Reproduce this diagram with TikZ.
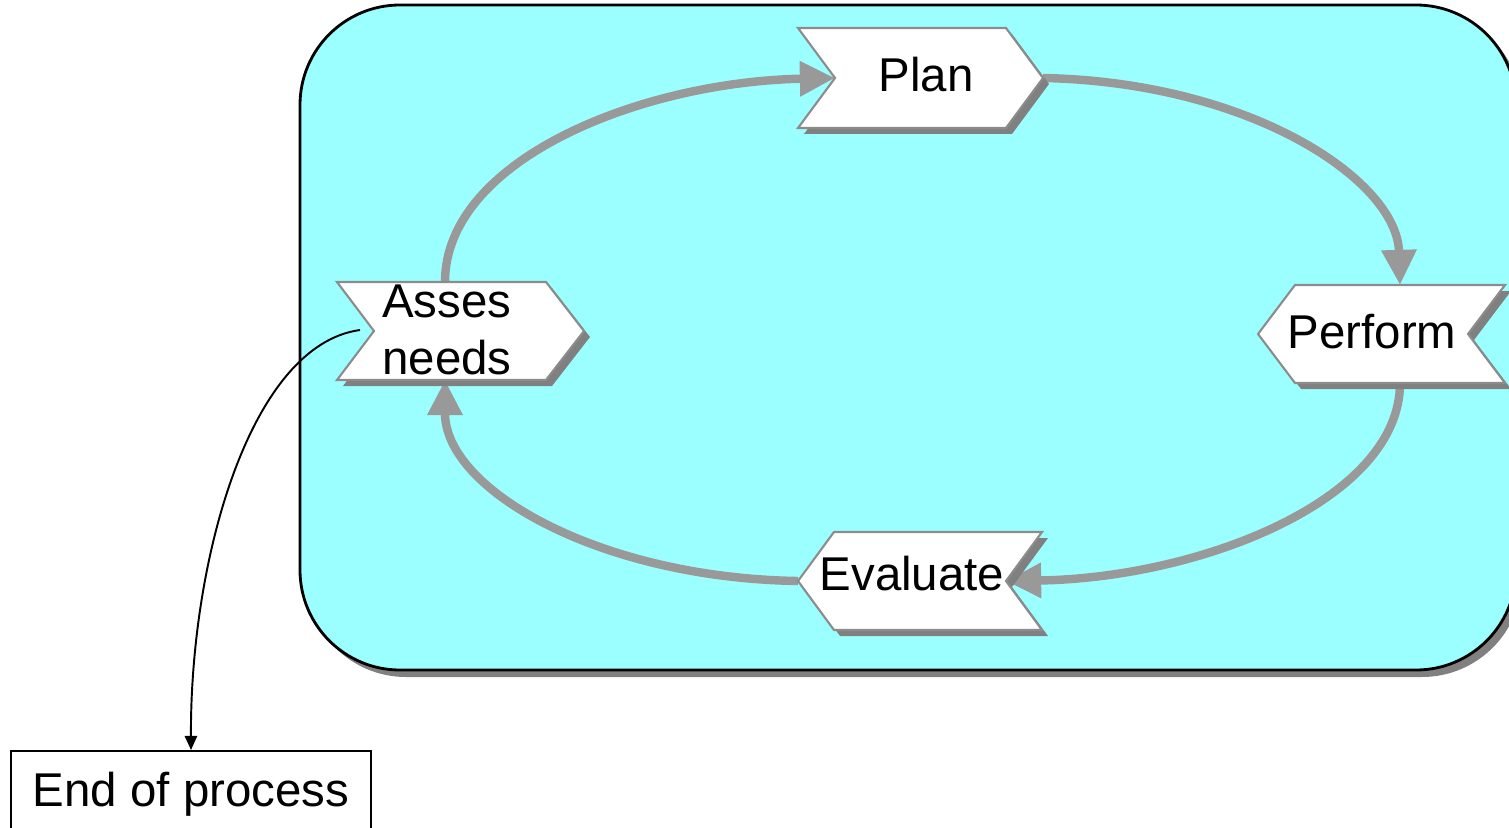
\documentclass[tikz,border=0pt]{standalone}
\usepackage{fontspec}
\setmainfont{Liberation Sans}
\usetikzlibrary{arrows.meta}
\definecolor{cyanbg}{HTML}{9CFFFF}
\definecolor{shadowgrey}{HTML}{808080}
\definecolor{edgegrey}{HTML}{8C8C8C}
\definecolor{arrowgrey}{HTML}{999999}
\begin{document}
\begin{tikzpicture}[x=0.02cm,y=-0.02cm,
  lbl/.style={font=\fontsize{27}{32}\selectfont, inner sep=0pt},
  chev/.style={fill=white, draw=edgegrey, line width=1.2pt, line join=miter},
  chevshadow/.style={fill=shadowgrey},
  cyclearrow/.style={draw=arrowgrey, line width=4.8pt, -{Triangle[length=20pt,width=19pt]}},
  exitarrow/.style={draw=black, line width=1.1pt, -{Triangle[length=8pt,width=7pt]}}
]
\useasboundingbox (0,0) rectangle (1509,828);

% big rounded panel
\fill[shadowgrey, rounded corners=2cm] (306,11) rectangle (1522,677);
\draw[fill=cyanbg, line width=1.6pt, rounded corners=2cm] (300,5) rectangle (1516,670);

% anchor points
\coordinate (asTop) at (445,282);
\coordinate (asBot) at (445,380);
\coordinate (asNotch) at (360,330);
\coordinate (plIn) at (835,78);
\coordinate (plOut) at (1043,78);
\coordinate (peTop) at (1400,285);
\coordinate (peBot) at (1400,383);
\coordinate (evIn) at (1006,581);
\coordinate (evOut) at (798,581);

% cycle arrows
\draw[cyclearrow] (asTop) .. controls (445,160) and (640,82) .. (plIn);
\draw[cyclearrow] (plOut) .. controls (1250,82) and (1397,180) .. (peTop);
\draw[cyclearrow] (peBot) .. controls (1400,500) and (1200,578) .. (evIn);
\draw[cyclearrow] (evOut) .. controls (600,578) and (445,490) .. (asBot);

% Plan chevron
\fill[chevshadow] (804,34) -- (1012,34) -- (1049,84) -- (1012,134) -- (804,134) -- (841,84) -- cycle;
\draw[chev] (798,28) -- (1006,28) -- (1043,78) -- (1006,128) -- (798,128) -- (835,78) -- cycle;
% Asses chevron
\fill[chevshadow] (343,288) -- (552,288) -- (590,337) -- (552,386) -- (343,386) -- (380,337) -- cycle;
\draw[chev] (337,282) -- (546,282) -- (584,331) -- (546,380) -- (337,380) -- (374,331) -- cycle;
% Perform chevron
\fill[chevshadow] (1301,291) -- (1511,291) -- (1474,340) -- (1511,389) -- (1301,389) -- (1264,340) -- cycle;
\draw[chev] (1295,285) -- (1505,285) -- (1468,334) -- (1505,383) -- (1295,383) -- (1258,334) -- cycle;
% Evaluate chevron
\fill[chevshadow] (840,538) -- (1048,538) -- (1012,587) -- (1048,636) -- (840,636) -- (804,587) -- cycle;
\draw[chev] (834,532) -- (1042,532) -- (1006,581) -- (1042,630) -- (834,630) -- (798,581) -- cycle;

% labels
\node[lbl, anchor=base] (plan) at (926,92) {Plan};
\node[lbl, anchor=north west, align=left] (asses) at (382,285) {Asses\\needs};
\node[lbl, anchor=base] (perform) at (1372,348) {Perform};
\node[lbl, anchor=base] (evaluate) at (912,590) {Evaluate};

% end box
\node[lbl, draw, line width=1.2pt, anchor=north west, text height=1.1cm, text depth=0.8cm,
      minimum width=7.2cm] (endp) at (10,750) {End of process};

\draw[exitarrow] (asNotch) .. controls (250,345) and (190,560) .. (endp.north);
\end{tikzpicture}
\end{document}
